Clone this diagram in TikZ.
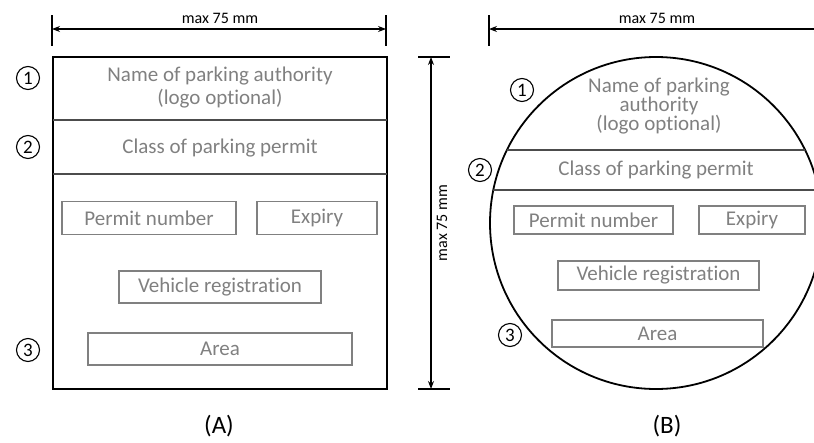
\documentclass[tikz,border=0pt]{standalone}
\usepackage{fontspec}
\setmainfont{Carlito}[Ligatures=NoCommon]
\usetikzlibrary{arrows.meta}

\begin{document}
\begin{tikzpicture}[x=1pt,y=-1pt,
  every node/.style={font=\fontsize{21}{23}\selectfont},
  card/.style={line width=2.2pt},
  divider/.style={draw=black!70,line width=1.1pt},
  field/.style={draw=black!50,line width=1.3pt,text=black!50,inner sep=0pt},
  label/.style={text=black!50},
  num/.style={draw,circle,line width=1.1pt,minimum size=23pt,inner sep=0pt,font=\fontsize{19}{19}\selectfont},
  dim/.style={line width=1.1pt,{Stealth[length=8pt,width=6pt]}-{Stealth[length=8pt,width=6pt]}},
  tick/.style={line width=1.1pt},
  dimtext/.style={font=\fontsize{16}{16}\selectfont},
  caption/.style={font=\fontsize{25}{25}\selectfont}]
\useasboundingbox (0,0) rectangle (814,442);
\clip (0,0) rectangle (814,442);

% (A) square card
\draw[card] (53,57) rectangle (387,389);
\draw[divider] (53,120) -- (387,120);
\draw[divider] (53,174) -- (387,174);
\node[label,align=center] (nameA) at (220,88) {Name of parking authority\\(logo optional)};
\node[label] (classA) at (220,148) {Class of parking permit};
\node[field,minimum width=174pt,minimum height=33pt] (permitA) at (149,218) {Permit number};
\node[field,minimum width=120pt,minimum height=33pt] (expiryA) at (317,218) {Expiry};
\node[field,minimum width=202pt,minimum height=32pt] (vehicleA) at (220,287) {Vehicle registration};
\node[field,minimum width=264pt,minimum height=32pt] (areaA) at (220,349) {Area};
\node[num] (oneA) at (28,78) {1};
\node[num] (twoA) at (28,147) {2};
\node[num] (threeA) at (28,350) {3};
\node[caption] (capA) at (219,426) {(A)};

\coordinate (widthAl) at (52,29);
\coordinate (widthAr) at (386,29);
\draw[tick] (52,15) -- (52,46);
\draw[tick] (386,15) -- (386,46);
\draw[dim] (widthAl) -- (widthAr);
\node[dimtext] (widthA) at (220,18) {max 75 mm};

\coordinate (heightT) at (431,57);
\coordinate (heightB) at (431,389);
\draw[tick] (418,57) -- (450,57);
\draw[tick] (418,389) -- (450,389);
\draw[dim] (heightT) -- (heightB);
\node[dimtext,rotate=90] (height) at (442,223) {max 75 mm};

% (B) round card
\draw[card,line width=1.8pt] (656,223) circle (166pt);
\begin{scope}
\clip (656,223) circle (166pt);
\draw[divider] (480,150) -- (830,150);
\draw[divider] (480,190) -- (830,190);
\end{scope}
\node[label,align=center,font=\fontsize{21}{17.5}\selectfont] (nameB) at (659,106) {Name of parking\\authority\\(logo optional)};
\node[label] (classB) at (656,170) {Class of parking permit};
\node[field,minimum width=159pt,minimum height=28pt] (permitB) at (593.5,220) {Permit number};
\node[field,minimum width=106pt,minimum height=28pt] (expiryB) at (752,220) {Expiry};
\node[field,minimum width=201pt,minimum height=29pt] (vehicleB) at (658.5,275.5) {Vehicle registration};
\node[field,minimum width=211pt,minimum height=27pt] (areaB) at (657.5,333.5) {Area};
\node[num] (oneB) at (522,90) {1};
\node[num] (twoB) at (480,170) {2};
\node[num] (threeB) at (510,335) {3};
\node[caption] (capB) at (667,426) {(B)};

\coordinate (widthBl) at (489,29);
\coordinate (widthBr) at (822,29);
\draw[tick] (489,15) -- (489,46);
\draw[tick] (822,15) -- (822,46);
\draw[dim] (widthBl) -- (widthBr);
\node[dimtext] (widthB) at (657,18) {max 75 mm};
\end{tikzpicture}
\end{document}
